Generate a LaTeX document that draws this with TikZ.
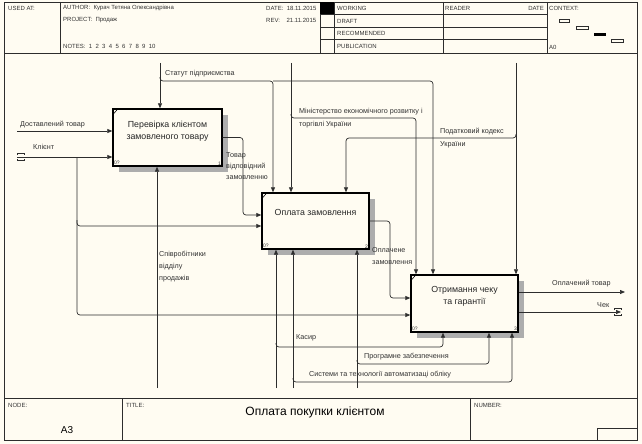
\documentclass[tikz,border=0pt]{standalone}
\usepackage{fontspec}
\setmainfont{Liberation Sans}
\usetikzlibrary{arrows.meta,patterns,shadows,calc}
\definecolor{bg}{RGB}{255,252,242}
\definecolor{lnc}{RGB}{45,45,45}
\begin{document}
\begin{tikzpicture}[x=1pt,y=-1pt,
  box/.style={draw=black, line width=1.4pt, fill=bg, inner sep=0pt, align=center,
    font=\fontsize{8.8}{12.5}\selectfont, text=black!85,
    general shadow={shadow xshift=6pt, shadow yshift=-6pt, fill=black!32}},
  wire/.style={draw=lnc, line width=0.7pt, rounded corners=3pt},
  arr/.style={wire, -{Triangle[length=5pt,width=4pt]}},
  lbl/.style={font=\fontsize{7.2}{11.5}\selectfont, anchor=west, inner sep=0pt, text=black!80, align=left},
  hdr/.style={font=\fontsize{6}{7}\selectfont, anchor=west, inner sep=0pt, text=black!80},
  idl/.style={font=\fontsize{5}{6}\selectfont, inner sep=1.5pt, text=black!80},
  thin/.style={draw=lnc, line width=0.5pt}]
\fill[bg] (0,0) rectangle (642,444);
% frame and header
\draw[thin, line width=0.8pt] (4,2) rectangle (637,440);
\draw[thin] (4,53) -- (637,53);
\draw[thin] (60,2) -- (60,53);
\draw[thin] (320,2) -- (320,53);
\fill[black] (320,2) rectangle (334,14);
\draw[thin] (334,2) -- (334,53);
\draw[thin] (320,14) -- (547,14);
\draw[thin] (320,27) -- (547,27);
\draw[thin] (320,39) -- (547,39);
\draw[thin] (443,2) -- (443,53);
\draw[thin] (547,2) -- (547,53);
\node[hdr] (usedat) at (8,8) {USED AT:};
\node[hdr] (author) at (63,8) {AUTHOR:\ \ Курач Тетяна Олександрівна};
\node[hdr] (project) at (63,20) {PROJECT:\ \ Продаж};
\node[hdr] (date) at (266,8) {DATE:\ \ 18.11.2015};
\node[hdr] (rev) at (266,20) {REV:\ \ \ \ 21.11.2015};
\node[hdr] (notes) at (63,46) {NOTES:\ \ 1\ \ 2\ \ 3\ \ 4\ \ 5\ \ 6\ \ 7\ \ 8\ \ 9\ \ 10};
\node[hdr] (working) at (337,8) {WORKING};
\node[hdr] (draft) at (337,21) {DRAFT};
\node[hdr] (recom) at (337,33) {RECOMMENDED};
\node[hdr] (publ) at (337,46) {PUBLICATION};
\node[hdr] (reader) at (445,8) {READER};
\node[hdr, anchor=east] (rdate) at (544,8) {DATE};
\node[hdr] (context) at (549,8) {CONTEXT:};
\node[hdr] (a0) at (549,47) {A0};
\draw[thin] (559,19) rectangle (569,22);
\draw[thin] (576,26) rectangle (588,29);
\fill[black] (594,33) rectangle (606,36);
\draw[thin] (611,39) rectangle (623,42);
% footer
\draw[thin] (4,398) -- (637,398);
\draw[thin] (122,398) -- (122,440);
\draw[thin] (470,398) -- (470,440);
\draw[thin] (597,428) rectangle (637,440);
\node[hdr] (nodel) at (8,405) {NODE:};
\node[hdr] (titlel) at (126,405) {TITLE:};
\node[hdr] (numl) at (474,405) {NUMBER:};
\node[font=\fontsize{10}{12}\selectfont, inner sep=0pt] (a3) at (67,430) {A3};
\node[font=\fontsize{12}{14}\selectfont, inner sep=0pt] (title) at (315,412) {Оплата покупки клієнтом};
% boxes
\node[box, minimum width=109pt, minimum height=57pt] (b1) at (167.5,137.5) {Перевірка клієнтом\\замовленого товару\\[2pt]};
\node[box, minimum width=107pt, minimum height=56pt] (b2) at (315.5,221) {Оплата замовлення\\[4pt]};
\node[box, minimum width=107pt, minimum height=57pt] (b3) at (464.5,303.5) {Отримання чеку\\та гарантії\\[4pt]};
\foreach \b/\n in {b1/1,b2/2,b3/3}{
  \draw[black, line width=0.6pt] (\b.north west) ++(0,7) -- ++(6,-7);
  \node[idl, anchor=south west] (\b id) at (\b.south west) {0?};
  \node[idl, anchor=south east] (\b num) at (\b.south east) {\n};
}
% controls
\coordinate (sT) at (160,63);
\coordinate (mT) at (291,63);
\coordinate (pT) at (516,63);
\draw[arr] (sT) -- (sT |- b1.north);
\draw[arr] (160,77) -- (160,81) -- (273,81) -- (273,81 |- b2.north);
\draw[arr] (273,81) -- (433,81) -- (433,81 |- b3.north);
\draw[arr] (mT) -- (mT |- b2.north);
\draw[arr] (291,114) -- (291,118) -- (416,118) -- (416,118 |- b3.north);
\draw[arr] (pT) -- (pT |- b3.north);
\draw[arr] (516,134) -- (516,138) -- (346,138) -- (346,138 |- b2.north);
\node[lbl] (lstat) at (165,74) {Статут підприємства};
\node[lbl] (lmin1) at (299,112) {Міністерство економічного розвитку і};
\node[lbl] (lmin2) at (299,125) {торгівлі України};
\node[lbl] (lpod1) at (440,132) {Податковий кодекс};
\node[lbl] (lpod2) at (440,145) {України};
% inputs
\coordinate (dT) at (17,131);
\draw[arr] (dT) -- (dT -| b1.west);
\coordinate (kT) at (17,157);
\draw[arr] (kT) -- (kT -| b1.west);
\draw[lnc, line width=0.6pt] (17,155) -- (17,153.5) -- (24,153.5) -- (24,155);
\draw[lnc, line width=0.6pt] (17,159) -- (17,160.5) -- (24,160.5) -- (24,159);
\coordinate (k2) at (77,226);
\coordinate (k3) at (77,315);
\draw[arr] (77,157) -- (k2) -- (k2 -| b2.west);
\draw[arr] (77,220) -- (k3) -- (k3 -| b3.west);
\node[lbl] (ldost) at (20,125) {Доставлений товар};
\node[lbl] (lklient) at (33,147) {Клієнт};
% outputs
\coordinate (t2) at (243,215);
\draw[arr] (b1.east) -- (243,137.5) -- (t2) -- (t2 -| b2.west);
\node[lbl, anchor=north west, font=\fontsize{7.2}{11}\selectfont] (ltovar) at (226,152) {Товар\\відповідний\\замовленню};
\coordinate (o2) at (390,298);
\draw[arr] (b2.east) -- (390,221) -- (o2) -- (o2 -| b3.west);
\node[lbl, anchor=north west, font=\fontsize{7.2}{12}\selectfont] (lopl) at (372,247) {Оплачене\\замовлення};
\coordinate (ot) at (625,292);
\draw[arr] (ot -| b3.east) -- (ot);
\coordinate (ch) at (621,312);
\draw[arr] (ch -| b3.east) -- (ch);
\draw[lnc, line width=0.6pt] (614,310) -- (614,308.5) -- (621,308.5) -- (621,310);
\draw[lnc, line width=0.6pt] (614,314) -- (614,315.5) -- (621,315.5) -- (621,314);
\node[lbl] (lotov) at (552,284) {Оплачений товар};
\node[lbl] (lchek) at (597,305) {Чек};
% mechanisms
\coordinate (sb) at (157,388);
\draw[arr] (sb) -- (sb |- b1.south);
\node[lbl, anchor=north west, font=\fontsize{7.2}{12}\selectfont] (lspiv) at (159,251) {Співробітники\\відділу\\продажів};
\coordinate (m1) at (276,388);
\coordinate (m2) at (293,388);
\coordinate (m3) at (357,388);
\draw[arr] (m1) -- (m1 |- b2.south);
\draw[arr] (m2) -- (m2 |- b2.south);
\draw[arr] (m3) -- (m3 |- b2.south);
\draw[arr] (276,343) -- (276,347) -- (443,347) -- (443,347 |- b3.south);
\draw[arr] (357,360) -- (357,364) -- (489,364) -- (489,364 |- b3.south);
\draw[arr] (293,378) -- (293,382) -- (512,382) -- (512,382 |- b3.south);
\node[lbl] (lkas) at (296,338) {Касир};
\node[lbl] (lprog) at (364,357) {Програмне забезпечення};
\node[lbl] (lsys) at (309,375) {Системи та технології автоматизаці обліку};
\end{tikzpicture}
\end{document}
